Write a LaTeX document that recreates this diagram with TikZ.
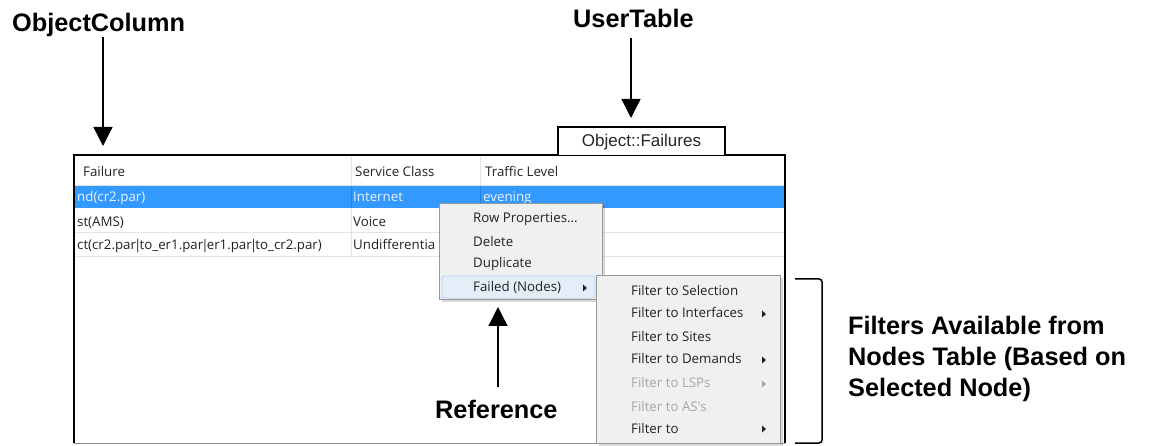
\documentclass[tikz,border=0pt]{standalone}
\usepackage{fontspec}
\setmainfont{Liberation Sans}
\newfontfamily\uifont{Open Sans}
\usetikzlibrary{arrows.meta}

\definecolor{selblue}{HTML}{3399FF}
\definecolor{selrule}{HTML}{2A7FD6}
\definecolor{menubg}{HTML}{F0F0F0}
\definecolor{menuedge}{HTML}{979797}
\definecolor{hoverfill}{HTML}{E4EEF9}
\definecolor{hoveredge}{HTML}{AFCDEE}
\definecolor{gridline}{HTML}{E3E3E3}
\definecolor{uitext}{HTML}{222222}
\definecolor{uidim}{HTML}{A6A6A6}
\definecolor{seltext}{HTML}{EAF4FF}

% small submenu marker, tip pointing right
\newcommand\menuarrow[3][uitext]{%
  \fill[#1] (#2-2,#3-3.5) -- (#2+2,#3) -- (#2-2,#3+3.5) -- cycle;}
% narrow separator bar for the failure expressions
\newcommand\tightbar{\kern-1.9pt|\kern-1.9pt}

\begin{document}
\begin{tikzpicture}[x=1pt,y=-1pt,
  callout/.style={font=\fontsize{25.3}{31}\selectfont\bfseries, inner sep=0pt,
                  text height=18pt, text depth=5pt},
  ui/.style={font=\uifont\fontsize{13.3}{16}\selectfont, text=uitext,
             inner sep=0pt, anchor=base west},
  dim/.style={ui, text=uidim},
  sel/.style={ui, text=seltext},
  pointer/.style={line width=1.3pt, -{Triangle[width=19pt,length=19pt]}},
  menubox/.style={fill=menubg, draw=menuedge, line width=0.6pt},
  shadow/.style={fill=black, opacity=0.15},
]
\useasboundingbox (0,0) rectangle (1152,446);

% ---------- table body ----------
\fill[white] (74,155) rectangle (785,443);
% selected first row
\fill[selblue] (74,186) rectangle (785,208);
% row and header rules
\draw[gridline, line width=0.8pt] (74,185.5) -- (785,185.5);
\draw[gridline, line width=0.8pt] (74,232.5) -- (785,232.5);
\draw[gridline, line width=0.8pt] (74,256) -- (785,256);
% column rules
\draw[gridline, line width=0.8pt] (351,155) -- (351,186);
\draw[gridline, line width=0.8pt] (480,155) -- (480,186);
\draw[gridline, line width=0.8pt] (351,208) -- (351,256);
\draw[selrule, line width=0.8pt] (351,186) -- (351,208);
\draw[selrule, line width=0.8pt] (480,186) -- (480,208);

% header
\node[ui] (hfail) at (83,177) {Failure};
\node[ui] (hsvc)  at (355,177) {Service Class};
\node[ui] (htraf) at (485,177) {Traffic Level};
% rows
\node[sel] (r1a) at (77,202) {nd(cr2.par)};
\node[sel] (r1b) at (353,202) {Internet};
\node[sel] (r1c) at (483,202) {evening};
\node[ui] (r2a) at (77,227) {st(AMS)};
\node[ui] (r2b) at (353,227) {Voice};
\node[ui] (r3a) at (77,250)
  {ct(cr2.par\tightbar to\_er1.par\tightbar er1.par\tightbar to\_cr2.par)};
\node[ui] (r3b) at (353,250) {Undifferentia};

% frame of the table
\draw[black!45, line width=0.8pt] (74,443) -- (785,443);
\draw[black, line width=1.6pt] (74,443) -- (74,155) -- (785,155) -- (785,443);

% tab with the table name
\draw[black, line width=1.3pt, fill=white] (558,155) -- (558,127) -- (725,127) -- (725,155);
\node[font=\fontsize{17}{20}\selectfont, text=black!85, inner sep=0pt, anchor=base]
  (tab) at (641.5,147) {Object::Failures};

% ---------- context menu ----------
\fill[shadow] (442,206) rectangle (605,302);
\draw[menubox] (439,203) rectangle (602,299);
\draw[hoveredge, fill=hoverfill, rounded corners=2pt, line width=0.7pt]
  (442,276) rectangle (595,298);
\node[ui] (m1) at (473,223) {Row Properties...};
\node[ui] (m2) at (473,247) {Delete};
\node[ui] (m3) at (473,268) {Duplicate};
\node[ui] (m4) at (473,292) {Failed (Nodes)};
\menuarrow{585}{288}

% ---------- submenu ----------
\fill[shadow] (599,278) rectangle (783,446);
\draw[menubox] (596,275) rectangle (780,443);
\node[ui]  (s1) at (631,296) {Filter to Selection};
\node[ui]  (s2) at (631,318) {Filter to Interfaces};
\node[ui]  (s3) at (631,342) {Filter to Sites};
\node[ui]  (s4) at (631,364) {Filter to Demands};
\node[dim] (s5) at (631,388) {Filter to LSPs};
\node[dim] (s6) at (631,411) {Filter to AS's};
\node[ui]  (s7) at (631,433) {Filter to};
\menuarrow{764}{314}
\menuarrow{764}{360}
\menuarrow[uidim]{764}{384}
\menuarrow{764}{429}

% ---------- callouts ----------
\node[callout, anchor=base west] (oc) at (12,32) {ObjectColumn};
\coordinate (octip) at (103,146);
\draw[pointer] (oc.south -| octip) -- (octip);

\node[callout, anchor=base west] (ut) at (573,28) {UserTable};
\coordinate (uttip) at (631,118);
\draw[pointer, shorten <=5pt] (ut.south -| uttip) -- (uttip);

\node[callout, anchor=base west] (ref) at (435,418) {Reference};
\coordinate (reftip) at (498,307);
\draw[pointer, shorten <=13pt] (ref.north -| reftip) -- (reftip);

% bracket round the submenu
\coordinate (brtop) at (795,279);
\coordinate (brbot) at (795,443);
\draw[line width=1.5pt, rounded corners=3pt]
  (brtop) -- (822,279) -- (822,443) -- (brbot);

\node[callout, text height=, text depth=, align=left, anchor=north west]
  (filters) at (848,316)
  {Filters Available from\\Nodes Table (Based on\\Selected Node)};
\end{tikzpicture}
\end{document}
